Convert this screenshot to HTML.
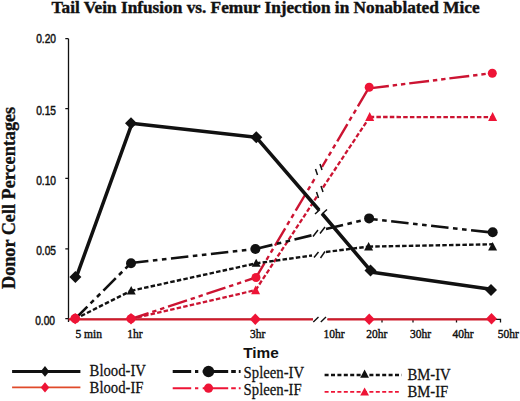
<!DOCTYPE html>
<html><head><meta charset="utf-8">
<style>
html,body{margin:0;padding:0;background:#fff;width:520px;height:401px;overflow:hidden}
svg{display:block}
.ser{font-family:"Liberation Serif",serif}
.san{font-family:"Liberation Sans",sans-serif}
</style></head><body>
<svg width="520" height="401" viewBox="0 0 520 401">
<rect width="520" height="401" fill="#fff"/>
<text class="ser" x="51.6" y="13.2" font-size="17.25" font-weight="bold" fill="#111" stroke="#111" stroke-width="0.4">Tail Vein Infusion vs. Femur Injection in Nonablated Mice</text>
<text class="ser" transform="translate(15,289) rotate(-90)" font-size="18.2" font-weight="bold" fill="#111" stroke="#111" stroke-width="0.3">Donor Cell Percentages</text>
<g class="san" font-size="12" fill="#111" stroke="#111" stroke-width="0.45" text-anchor="end">
<text transform="translate(56,43) scale(0.85,1)">0.20</text>
<text transform="translate(56,115) scale(0.85,1)">0.15</text>
<text transform="translate(56,184.6) scale(0.85,1)">0.10</text>
<text transform="translate(56,255.1) scale(0.85,1)">0.05</text>
<text transform="translate(55,324.8) scale(0.85,1)">0.00</text>
</g>
<g stroke="#111" stroke-width="1.3" fill="none">
<path d="M68.5,38.7 V322"/>
<path d="M65.3,38.7 H68.5 M65.3,108.7 H68.5 M65.3,178.3 H68.5 M65.3,248.8 H68.5 M65.3,318.7 H68.5"/>
<path d="M68.5,319.3 H313 M327.5,319.3 H500.5 V322.5"/>
<path d="M382,319 V322.5 M413,319 V322.5 M456.5,319 V322.5"/>
</g>
<g class="ser" font-size="11.5" fill="#111" stroke="#111" stroke-width="0.4">
<text x="75.4" y="338">5 min</text>
<text x="127.3" y="338">1hr</text>
<text x="250" y="338">3hr</text>
<text x="323.6" y="338">10hr</text>
<text x="366.2" y="338">20hr</text>
<text x="410" y="338">30hr</text>
<text x="452.6" y="338">40hr</text>
<text x="497.7" y="338">50hr</text>
</g>
<text class="san" x="243.2" y="358.1" font-size="15.4" font-weight="bold" fill="#111">Time</text>
<path d="M68.5,319.3 H313 M327.5,319.3 H491.5" stroke="#cf1a2a" stroke-width="2.2" fill="none"/>
<path d="M313.3,321.9 L318.5,317 M320.8,321.9 L326,317" stroke="#111" stroke-width="1.4" fill="none"/>
<path d="M131.00,319.00 L255.60,290.10" stroke="#cc1432" stroke-width="2.3" fill="none" stroke-dasharray="4.5 2.2" stroke-dashoffset="0"/>
<path d="M255.60,290.10 L317.00,196.50" stroke="#cc1432" stroke-width="2.3" fill="none" stroke-dasharray="4.5 2.2" stroke-dashoffset="0"/>
<path d="M323.00,187.50 L369.70,117.00" stroke="#cc1432" stroke-width="2.3" fill="none" stroke-dasharray="4.5 2.2" stroke-dashoffset="0"/>
<path d="M369.70,117.00 L492.60,117.10" stroke="#cc1432" stroke-width="2.3" fill="none" stroke-dasharray="4.5 2.2" stroke-dashoffset="0"/>
<path d="M131.00,319.00 L256.00,277.50" stroke="#cc1432" stroke-width="2.4" fill="none" stroke-dasharray="20 3.9 4.4 3.9 4.4 3.9" stroke-dashoffset="1.5"/>
<path d="M256.00,277.50 L316.00,176.50" stroke="#cc1432" stroke-width="2.4" fill="none" stroke-dasharray="20 3.9 4.4 3.9 4.4 3.9" stroke-dashoffset="3.3"/>
<path d="M322.00,167.00 L369.20,87.30" stroke="#cc1432" stroke-width="2.4" fill="none" stroke-dasharray="20 3.9 4.4 3.9 4.4 3.9" stroke-dashoffset="10.6"/>
<path d="M369.20,88.40 L492.30,73.10" stroke="#cc1432" stroke-width="2.4" fill="none" stroke-dasharray="20 3.9 4.4 3.9 4.4 3.9" stroke-dashoffset="0.2"/>
<path d="M75.00,319.00 L131.00,290.80" stroke="#111" stroke-width="2.4" fill="none" stroke-dasharray="4.5 2.2" stroke-dashoffset="0"/>
<path d="M131.00,290.80 L256.00,263.40" stroke="#111" stroke-width="2.4" fill="none" stroke-dasharray="4.5 2.2" stroke-dashoffset="0"/>
<path d="M256.00,263.40 L312.00,255.50" stroke="#111" stroke-width="2.4" fill="none" stroke-dasharray="4.5 2.2" stroke-dashoffset="0"/>
<path d="M326.00,252.00 L368.60,246.60" stroke="#111" stroke-width="2.4" fill="none" stroke-dasharray="4.5 2.2" stroke-dashoffset="0"/>
<path d="M368.60,246.60 L492.60,244.30" stroke="#111" stroke-width="2.4" fill="none" stroke-dasharray="4.5 2.2" stroke-dashoffset="0"/>
<path d="M75.00,319.00 L131.00,263.00" stroke="#111" stroke-width="2.6" fill="none" stroke-dasharray="17.5 4.5 4.6 4.5 4.6 4.5" stroke-dashoffset="0"/>
<path d="M131.00,263.00 L255.40,249.00" stroke="#111" stroke-width="2.6" fill="none" stroke-dasharray="17.5 4.5 4.6 4.5 4.6 4.5" stroke-dashoffset="0"/>
<path d="M255.40,249.00 L313.00,235.00" stroke="#111" stroke-width="2.6" fill="none" stroke-dasharray="17.5 4.5 4.6 4.5 4.6 4.5" stroke-dashoffset="0"/>
<path d="M326.00,229.00 L369.10,218.80" stroke="#111" stroke-width="2.6" fill="none" stroke-dasharray="17.5 4.5 4.6 4.5 4.6 4.5" stroke-dashoffset="0"/>
<path d="M369.10,218.80 L492.60,232.60" stroke="#111" stroke-width="2.6" fill="none" stroke-dasharray="17.5 4.5 4.6 4.5 4.6 4.5" stroke-dashoffset="18.0"/>
<path d="M76.4,276.9 L132,123.3 M131,123.3 L256.3,137.3 L319,210 M322,213.5 L370.5,270.5 M370.5,272 L491,289.2" stroke="#111" stroke-width="3.5" fill="none" stroke-linejoin="round"/>
<g stroke="#111" stroke-width="1.5" fill="none">
<path d="M315,214 L320,209.5 M322,214 L327,209.5"/>
<path d="M313,236.5 L318,230 M320,233.5 L325,227"/>
<path d="M314,257.5 L318.5,252 M320.5,258 L325,251.5"/>
<path d="M315.5,169 L317.5,175 M320,164 L322,170"/>
<path d="M316.5,192 L318.5,198 M321,186 L323,192"/>
</g>
<path d="M75.4,270.9 L81.4,276.9 L75.4,282.9 L69.4,276.9Z" fill="#111"/>
<path d="M131,117.3 L137,123.3 L131,129.3 L125,123.3Z" fill="#111"/>
<path d="M256.3,131.3 L262.3,137.3 L256.3,143.3 L250.3,137.3Z" fill="#111"/>
<path d="M370.5,264.5 L376.5,270.5 L370.5,276.5 L364.5,270.5Z" fill="#111"/>
<path d="M491,284 L497,290 L491,296 L485,290Z" fill="#111"/>
<circle cx="131" cy="263.2" r="5" fill="#111"/>
<circle cx="255.4" cy="249" r="5" fill="#111"/>
<circle cx="369.1" cy="218.4" r="5" fill="#111"/>
<circle cx="492.7" cy="232.3" r="5" fill="#111"/>
<path d="M131.2,286 L135.7,294.5 L126.69999999999999,294.5Z" fill="#111"/>
<path d="M256.2,258.8 L260.7,266.8 L251.7,266.8Z" fill="#111"/>
<path d="M368.6,242 L373.1,250.5 L364.1,250.5Z" fill="#111"/>
<path d="M492.6,242 L497.1,250.5 L488.1,250.5Z" fill="#111"/>
<circle cx="75.2" cy="318.6" r="4.8" fill="#ee1436"/>
<path d="M75.2,313.0 L80.5,318.6 L75.2,324.20000000000005 L69.9,318.6Z" fill="#ee1436"/>
<circle cx="131" cy="318.8" r="4.5" fill="#ee1436"/>
<path d="M131,313.1 L136.5,318.8 L131,324.5 L125.5,318.8Z" fill="#ee1436"/>
<path d="M255.3,313.5 L260.8,319.2 L255.3,324.9 L249.8,319.2Z" fill="#ee1436"/>
<path d="M369.2,313.5 L374.7,319.2 L369.2,324.9 L363.7,319.2Z" fill="#ee1436"/>
<path d="M491.5,313.1 L497.0,318.8 L491.5,324.5 L486.0,318.8Z" fill="#ee1436"/>
<circle cx="256" cy="277.5" r="4.5" fill="#ee1436"/>
<circle cx="369.2" cy="87.3" r="4.5" fill="#ee1436"/>
<circle cx="492.3" cy="73.3" r="4.5" fill="#ee1436"/>
<path d="M255.6,285.5 L260.1,294.3 L251.1,294.3Z" fill="#ee1436"/>
<path d="M369.7,112.1 L374.2,120.89999999999999 L365.2,120.89999999999999Z" fill="#ee1436"/>
<path d="M492.6,112.1 L497.1,120.89999999999999 L488.1,120.89999999999999Z" fill="#ee1436"/>
<path d="M12.1,371.4 H80.4" stroke="#111" stroke-width="3" fill="none"/>
<path d="M12.1,387.4 H80.4" stroke="#e04a2a" stroke-width="1.6" fill="none"/>
<path d="M172.7,371.5 H191.2 M195,371.5 H198.3 M202.7,371.5 H228.2 M231.2,371.5 H235.8 M238.8,371.5 H240.6 " stroke="#111" stroke-width="3" fill="none"/>
<path d="M172.7,388.2 H191.2 M195,388.2 H198.3 M202.7,388.2 H228.2 M231.2,388.2 H235.8 M238.8,388.2 H240.6 " stroke="#ee1436" stroke-width="2" fill="none"/>
<path d="M324.6,374.9 H401.7" stroke="#111" stroke-width="2.5" stroke-dasharray="4 2.4" fill="none"/>
<path d="M324.6,391.8 H398.8" stroke="#ee1436" stroke-width="1.8" stroke-dasharray="4 2.4" fill="none"/>
<path d="M45,366.0 L49.3,371.4 L45,376.79999999999995 L40.7,371.4Z" fill="#111"/>
<path d="M45,382.2 L49.3,387.4 L45,392.59999999999997 L40.7,387.4Z" fill="#ee1436"/>
<circle cx="208.5" cy="371.5" r="5.7" fill="#111"/>
<circle cx="208.5" cy="388.2" r="4.6" fill="#ee1436"/>
<path d="M364.6,369.5 L369.0,377.7 L360.20000000000005,377.7Z" fill="#111"/>
<path d="M364.6,387.4 L369.0,395.6 L360.20000000000005,395.6Z" fill="#ee1436"/>
<g class="ser" font-size="16" fill="#111" stroke="#111" stroke-width="0.25">
<text transform="translate(89.6,376.3) scale(0.92,1)">Blood-IV</text>
<text transform="translate(89.6,393.4) scale(0.92,1)">Blood-IF</text>
<text transform="translate(243.6,378.3) scale(0.92,1)">Spleen-IV</text>
<text transform="translate(243.6,395.4) scale(0.92,1)">Spleen-IF</text>
<text transform="translate(407.4,379.7) scale(0.92,1)">BM-IV</text>
<text transform="translate(407.4,397) scale(0.92,1)">BM-IF</text>
</g>
</svg>
</body></html>
